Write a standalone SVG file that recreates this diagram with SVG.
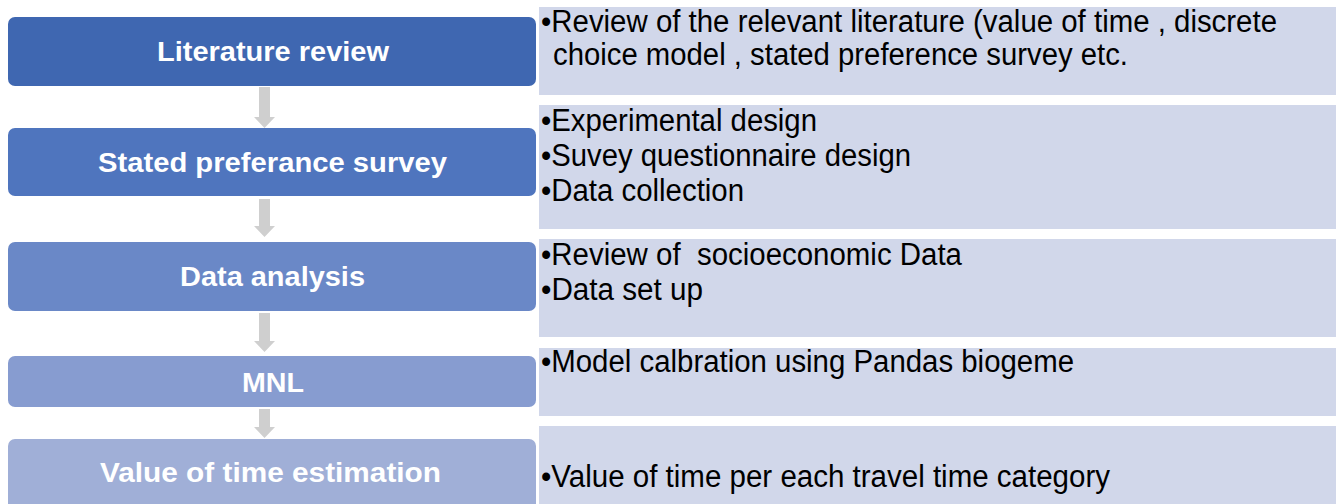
<svg xmlns="http://www.w3.org/2000/svg" width="1336" height="504" viewBox="0 0 1336 504">
  <style>
    .step { stroke: none; }
    .label { font-family: "Liberation Sans", Arial, sans-serif; font-weight: bold; font-size: 28px; fill: #ffffff; text-anchor: middle; }
    .panel { fill: #d1d7ea; }
    .note { font-family: "Liberation Sans Narrow", "Liberation Sans", Arial, sans-serif; font-size: 31px; fill: #000000; }
    .arrow { fill: #cfcfcf; }
  </style>

  <rect x="0" y="0" width="1336" height="504" fill="#ffffff"/>

  <!-- detail panels on the right -->
  <g id="detail-1">
    <rect class="panel" x="539" y="7" width="797" height="88"/>
    <text class="note" x="541" y="32" textLength="736" lengthAdjust="spacingAndGlyphs">•Review of the relevant literature (value of time , discrete</text>
    <text class="note" x="553" y="65" textLength="575" lengthAdjust="spacingAndGlyphs">choice model , stated preference survey etc.</text>
  </g>
  <g id="detail-2">
    <rect class="panel" x="539" y="105" width="797" height="124"/>
    <text class="note" x="541" y="131" textLength="276" lengthAdjust="spacingAndGlyphs">•Experimental design</text>
    <text class="note" x="541" y="166" textLength="370" lengthAdjust="spacingAndGlyphs">•Suvey questionnaire design</text>
    <text class="note" x="541" y="201" textLength="203" lengthAdjust="spacingAndGlyphs">•Data collection</text>
  </g>
  <g id="detail-3">
    <rect class="panel" x="539" y="239" width="797" height="98"/>
    <text class="note" x="541" y="265" textLength="421" lengthAdjust="spacingAndGlyphs" xml:space="preserve">•Review of  socioeconomic Data</text>
    <text class="note" x="541" y="300" textLength="162" lengthAdjust="spacingAndGlyphs">•Data set up</text>
  </g>
  <g id="detail-4">
    <rect class="panel" x="539" y="348" width="797" height="68"/>
    <text class="note" x="541" y="372" textLength="533" lengthAdjust="spacingAndGlyphs">•Model calbration using Pandas biogeme</text>
  </g>
  <g id="detail-5">
    <rect class="panel" x="539" y="426" width="797" height="78"/>
    <text class="note" x="541" y="487" textLength="569" lengthAdjust="spacingAndGlyphs">•Value of time per each travel time category</text>
  </g>

  <!-- process steps on the left -->
  <g id="step-literature">
    <rect class="step" x="8" y="17" width="528" height="69" rx="7" fill="#3f67b1"/>
    <text class="label" x="273" y="61" textLength="232" lengthAdjust="spacingAndGlyphs">Literature review</text>
  </g>
  <g id="step-survey">
    <rect class="step" x="8" y="128" width="528" height="68" rx="7" fill="#4f75be"/>
    <text class="label" x="272.5" y="172" textLength="349" lengthAdjust="spacingAndGlyphs">Stated preferance survey</text>
  </g>
  <g id="step-analysis">
    <rect class="step" x="8" y="242" width="528" height="69" rx="7" fill="#6a88c7"/>
    <text class="label" x="272.5" y="286" textLength="185" lengthAdjust="spacingAndGlyphs">Data analysis</text>
  </g>
  <g id="step-mnl">
    <rect class="step" x="8" y="356" width="528" height="51" rx="7" fill="#879cd0"/>
    <text class="label" x="273" y="392" textLength="62" lengthAdjust="spacingAndGlyphs">MNL</text>
  </g>
  <g id="step-vot">
    <rect class="step" x="8" y="439" width="528" height="75" rx="7" fill="#a0afd7"/>
    <text class="label" x="270.5" y="482" textLength="341" lengthAdjust="spacingAndGlyphs">Value of time estimation</text>
  </g>

  <!-- block arrows between steps -->
  <g id="connectors">
    <path class="arrow" d="M259,87 H270 V117 H275 L264.5,128 L254,117 H259 Z"/>
    <path class="arrow" d="M259,199 H270 V226 H275 L264.5,237 L254,226 H259 Z"/>
    <path class="arrow" d="M259,313 H270 V341 H275 L264.5,352 L254,341 H259 Z"/>
    <path class="arrow" d="M259,409 H270 V427 H275 L264.5,438 L254,427 H259 Z"/>
  </g>
</svg>
